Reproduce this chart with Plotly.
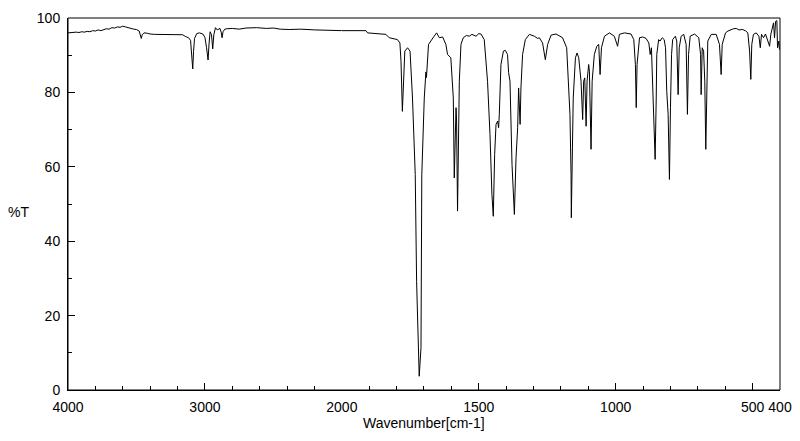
import plotly.graph_objects as go

# ---- data: IR spectrum, wavenumber (cm-1) vs %T ----
wn_high = [4000, 3980, 3960, 3940, 3920, 3900, 3880, 3860, 3840, 3820, 3800, 3780, 3760, 3740,
           3720, 3700, 3680, 3660, 3640, 3620, 3600, 3580, 3560, 3540, 3520, 3500, 3480, 3470,
           3465, 3458, 3445, 3420, 3400, 3368, 3300, 3250, 3200, 3164, 3140, 3120, 3105, 3095,
           3089, 3083, 3076, 3060, 3040, 3015, 3000, 2988, 2977, 2970, 2962, 2952, 2943, 2935,
           2923, 2910, 2902, 2890, 2880, 2875, 2868, 2855, 2843, 2800, 2750, 2700, 2624, 2550,
           2500, 2450, 2384, 2300, 2200, 2100, 2040, 2000]
t_high = [96.0, 96.1, 96.0, 96.2, 96.1, 96.3, 96.2, 96.4, 96.3, 96.6, 96.5, 96.8, 96.6, 96.9,
          97.1, 97.0, 97.4, 97.3, 97.6, 97.5, 97.8, 97.6, 97.5, 97.2, 97.0, 96.9, 96.5, 95.0,
          94.5, 95.5, 96.0, 95.9, 95.7, 95.6, 95.6, 95.6, 95.6, 95.5, 95.0, 94.7, 94.0, 90.0,
          86.3, 91.0, 94.5, 95.8, 96.0, 95.7, 94.8, 92.0, 88.7, 93.0, 96.3, 95.5, 91.7, 95.5,
          97.4, 96.8, 96.9, 97.2, 96.0, 94.7, 96.3, 97.0, 97.1, 97.2, 97.0, 97.3, 97.4, 97.2,
          97.3, 97.0, 96.9, 97.0, 96.8, 96.7, 96.6, 96.6]

wn_low = [2000, 1950, 1912, 1906, 1870, 1839, 1827, 1797, 1788, 1784, 1779, 1774, 1770, 1760,
          1751, 1742, 1732, 1727, 1722, 1717.5, 1711, 1710, 1708, 1699, 1693, 1691, 1683.5, 1663,
          1654, 1644, 1632, 1620, 1614, 1602, 1593, 1589.5, 1583, 1581, 1577.5, 1571, 1565, 1556.6,
          1545, 1534.7, 1525, 1510, 1500, 1492, 1480, 1468, 1459, 1452, 1447, 1442, 1437, 1431,
          1427.6, 1425, 1419, 1410, 1403, 1395, 1391, 1386, 1378.6, 1370, 1364, 1358, 1354.5, 1349,
          1346, 1340, 1330, 1315, 1297, 1285, 1279, 1267, 1257, 1248.5, 1236, 1218, 1194, 1179,
          1172, 1167, 1163, 1162, 1158, 1155, 1147, 1141, 1135, 1126.5, 1120.6, 1117, 1113, 1108,
          1104.5, 1098.7, 1096, 1090, 1086, 1078, 1069, 1062, 1057, 1052, 1041, 1023, 1005, 993,
          986.5, 968, 944, 934, 928, 925, 922, 916, 913, 901, 889, 879, 874, 869.5,
          865, 858.5, 856, 852, 850, 843, 838, 830, 823, 818, 813.6, 808.5, 803.7, 800,
          796, 792, 782, 777, 772, 768, 761, 751.5, 742.7, 738, 734, 728, 712, 696.6,
          690, 688, 684, 679, 674.7, 671, 667, 663.7, 651, 633, 621, 615, 611, 599,
          590, 578, 570, 560, 550, 536, 525, 517.5, 511, 506.6, 503, 497, 487, 477,
          472, 467.5, 460, 453, 444, 438, 433.5, 428, 423.6, 420, 416, 411.5, 409, 404, 402]
t_low = [96.6, 96.6, 96.6, 96.0, 95.8, 95.6, 94.7, 94.2, 93.3, 88.4, 74.9, 84.0, 91.1, 92.0,
         91.1, 78.5, 57.9, 29.2, 11.4, 3.7, 11.4, 38.3, 57.9, 78.5, 85.5, 84.0, 92.9, 95.1,
         96.0, 94.7, 94.9, 92.9, 90.2, 89.3, 78.5, 57.0, 75.9, 72.3, 48.1, 83.0, 92.9, 94.7,
         95.3, 95.1, 95.6, 95.1, 95.8, 95.7, 94.2, 83.0, 68.7, 52.6, 46.7, 63.3, 71.4, 72.3,
         70.5, 74.1, 87.5, 91.1, 91.3, 90.2, 85.3, 83.0, 60.6, 47.2, 62.4, 70.5, 81.2, 71.4,
         81.2, 90.2, 94.2, 95.6, 95.1, 94.5, 94.7, 93.3, 88.8, 92.9, 95.4, 95.7, 94.7, 92.0,
         83.0, 74.1, 57.9, 46.3, 65.1, 78.5, 89.3, 90.6, 89.3, 83.0, 72.7, 83.0, 83.9, 70.9,
         83.0, 87.5, 85.7, 64.7, 83.0, 90.2, 92.4, 92.9, 84.8, 92.0, 95.1, 96.0, 95.1, 92.4,
         95.6, 96.0, 95.7, 94.2, 87.5, 75.9, 87.5, 92.9, 94.7, 94.9, 94.5, 93.3, 90.2, 92.0,
         83.0, 65.1, 62.0, 78.5, 90.2, 94.2, 93.8, 94.7, 94.2, 92.0, 80.3, 74.1, 56.6, 75.9,
         90.2, 94.2, 95.1, 93.8, 79.4, 92.0, 95.1, 95.6, 92.9, 74.1, 90.2, 95.1, 95.7, 94.7,
         90.2, 79.4, 92.0, 91.1, 83.0, 64.7, 83.0, 93.8, 95.6, 95.6, 92.9, 84.8, 92.9, 96.0,
         96.5, 96.9, 97.1, 97.2, 96.8, 96.9, 96.5, 96.0, 91.1, 83.5, 92.9, 95.6, 96.0, 95.1,
         92.0, 95.6, 94.7, 95.7, 93.3, 92.4, 95.6, 97.4, 98.7, 94.7, 99.1, 99.3, 92.0, 93.8, 91.5]

major_high = [4000, 3000, 2000]
major_low = [1500, 1000, 500, 400]
y_major = [0, 20, 40, 60, 80, 100]

FONT = "Liberation Sans, Arial, sans-serif"
split = 2000 / 5200.0

fig = go.Figure()
fig.add_trace(go.Scatter(x=wn_high, y=t_high, mode="lines", xaxis="x", yaxis="y",
                         line=dict(color="black", width=1), showlegend=False, hoverinfo="x+y"))
fig.add_trace(go.Scatter(x=wn_low, y=t_low, mode="lines", xaxis="x2", yaxis="y",
                         line=dict(color="black", width=1), showlegend=False, hoverinfo="x+y"))

common = dict(ticks="inside", ticklen=7, tickcolor="black", tickwidth=1, tickangle=0,
              automargin=False,
              showline=True, linecolor="black", linewidth=1, showgrid=False, zeroline=False,
              tickfont=dict(family=FONT, size=14, color="black"), ticklabelstandoff=4)

fig.update_layout(
    width=800, height=441,
    margin=dict(l=68, r=20, t=18, b=51),
    paper_bgcolor="white", plot_bgcolor="white",
    xaxis=dict(domain=[0, split], range=[4000, 2000], anchor="y",
               tickmode="array", tickvals=major_high, ticktext=[str(v) for v in major_high],
               minor=dict(tickmode="array", tickvals=list(range(3800, 2000, -200)),
                          ticks="inside", ticklen=4, tickcolor="black"),
               **common),
    xaxis2=dict(domain=[split, 1], range=[2000, 400], anchor="y",
                tickmode="array", tickvals=major_low, ticktext=[str(v) for v in major_low],
                minor=dict(tickmode="array",
                           tickvals=[v for v in range(1900, 400, -100) if v % 500 != 0],
                           ticks="inside", ticklen=4, tickcolor="black"),
                **common),
    yaxis=dict(range=[0, 100], anchor="x", tickmode="array", tickvals=y_major,
               ticktext=[str(v) for v in y_major],
               minor=dict(tickmode="array", tickvals=[10, 30, 50, 70, 90],
                          ticks="inside", ticklen=4, tickcolor="black"),
               **common),
    shapes=[dict(type="rect", xref="paper", yref="paper", x0=0, x1=1, y0=0, y1=1,
                 line=dict(color="black", width=1), fillcolor="rgba(0,0,0,0)")],
    annotations=[
        dict(text="%T", xref="paper", yref="paper", x=-0.069, y=0.478, showarrow=False,
             xanchor="center", yanchor="middle", font=dict(family=FONT, size=14, color="black")),
        dict(text="Wavenumber[cm-1]", xref="paper", yref="paper", x=0.5, y=-0.089,
             showarrow=False, xanchor="center", yanchor="middle",
             font=dict(family=FONT, size=14, color="black")),
    ],
)

fig.write_html("out.html")
